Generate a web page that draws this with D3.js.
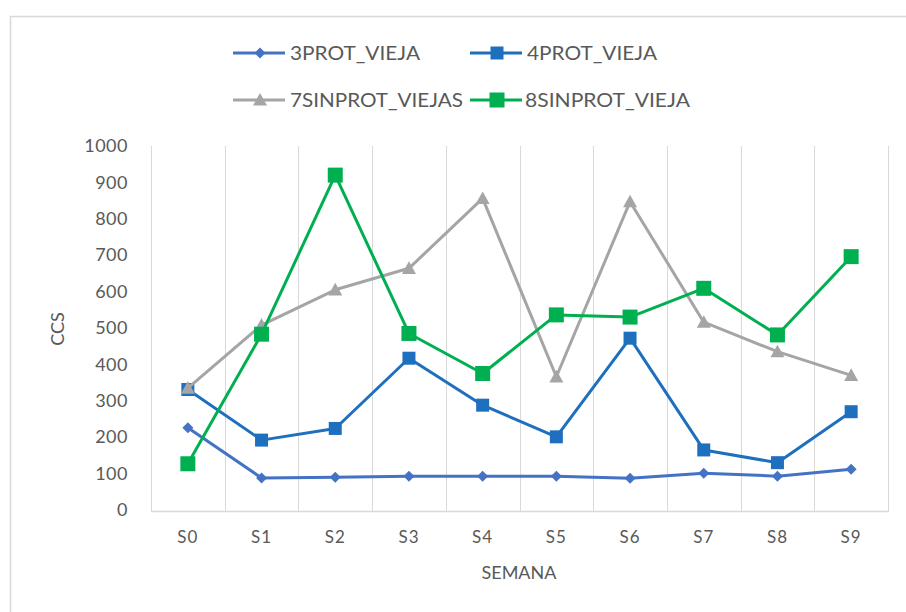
<!DOCTYPE html>
<html>
<head>
<meta charset="utf-8">
<script src="https://cdn.jsdelivr.net/npm/d3@7"></script>
<style>
  html, body { margin: 0; padding: 0; background: #ffffff; }
  svg { display: block; }
  text { font-family: Lato, "Open Sans", sans-serif; fill: #595959; }
</style>
</head>
<body>
<svg id="chart" width="906" height="612"></svg>
<script>
// Weekly CCS readings per group
const weeks = ["S0", "S1", "S2", "S3", "S4", "S5", "S6", "S7", "S8", "S9"];
const prot3Vieja    = [226, 88, 90, 93, 93, 93, 87, 101, 93, 112];
const prot4Vieja    = [331, 192, 224, 417, 288, 201, 472, 165, 130, 270];
const sinprot7Viejas = [335, 508, 605, 664, 856, 366, 847, 516, 435, 370];
const sinprot8Vieja = [127, 483, 920, 485, 375, 536, 530, 609, 481, 696];
const yTicks = [0, 100, 200, 300, 400, 500, 600, 700, 800, 900, 1000];

const series = [
  { name: "3PROT_VIEJA",     values: prot3Vieja,     color: "#4472C4", marker: "diamond",  size: 11 },
  { name: "4PROT_VIEJA",     values: prot4Vieja,     color: "#1F6FBF", marker: "square",   size: 13 },
  { name: "7SINPROT_VIEJAS", values: sinprot7Viejas, color: "#A5A5A5", marker: "triangle", size: 14 },
  { name: "8SINPROT_VIEJA",  values: sinprot8Vieja,  color: "#00B050", marker: "square",   size: 15 }
];

const svg = d3.select("#chart");

// outer chart frame
svg.append("path")
  .attr("d", "M10.5,920 V16.5 H920")
  .attr("fill", "none")
  .attr("stroke", "#D9D9D9")
  .attr("stroke-width", 1.5);

const plot = { left: 151, right: 888, top: 146, bottom: 510 };

const x = d3.scaleBand().domain(weeks).range([plot.left, plot.right]).padding(0);
const y = d3.scaleLinear().domain([0, 1000]).range([plot.bottom, plot.top]);
const cx = d => x(d) + x.bandwidth() / 2;

// vertical gridlines on category boundaries
const bounds = weeks.map(w => x(w)).concat([plot.right]);
svg.append("g").selectAll("line").data(bounds).join("line")
  .attr("x1", d => Math.round(d) + 0.5).attr("x2", d => Math.round(d) + 0.5)
  .attr("y1", plot.top).attr("y2", plot.bottom + 1)
  .attr("stroke", "#D9D9D9").attr("stroke-width", 1);

// category axis line
svg.append("line")
  .attr("x1", plot.left).attr("x2", plot.right + 1)
  .attr("y1", plot.bottom + 1.5).attr("y2", plot.bottom + 1.5)
  .attr("stroke", "#D9D9D9").attr("stroke-width", 1.5);

// value axis labels
const yAxis = d3.axisLeft(y).tickValues(yTicks).tickFormat(d3.format("d")).tickSize(0).tickPadding(0);
const yG = svg.append("g").attr("transform", "translate(128,0)").call(yAxis);
yG.select(".domain").remove();
yG.selectAll("text")
  .attr("font-size", 18).attr("fill", "#595959")
  .attr("letter-spacing", 0.5)
  .style("font-family", "Lato, sans-serif");

// category axis labels
const xAxis = d3.axisBottom(x).tickSize(0).tickPadding(0);
const xG = svg.append("g").attr("transform", "translate(0,537)").call(xAxis);
xG.select(".domain").remove();
xG.selectAll("text")
  .attr("dy", "0.35em")
  .attr("font-size", 17).attr("fill", "#595959")
  .attr("letter-spacing", 1)
  .style("font-family", "Lato, sans-serif");

// axis titles
svg.append("text")
  .attr("x", 519).attr("y", 573).attr("dy", "0.35em")
  .attr("text-anchor", "middle").attr("font-size", 18)
  .text("SEMANA");
svg.append("text")
  .attr("transform", "translate(58,329) rotate(-90)")
  .attr("dy", "0.35em")
  .attr("text-anchor", "middle").attr("font-size", 18)
  .text("CCS");

function markerPath(type, s) {
  const h = s / 2;
  if (type === "diamond") return `M0,${-h}L${h},0L0,${h}L${-h},0Z`;
  if (type === "triangle") return `M0,${-h}L${h},${h * 0.8}L${-h},${h * 0.8}Z`;
  return `M${-h},${-h}H${h}V${h}H${-h}Z`;
}

const line = d3.line().x((d, i) => cx(weeks[i])).y(d => y(d));

series.forEach(s => {
  const g = svg.append("g");
  g.append("path")
    .attr("d", line(s.values))
    .attr("fill", "none")
    .attr("stroke", s.color)
    .attr("stroke-width", 3)
    .attr("stroke-linejoin", "round");
  g.selectAll("path.m").data(s.values).join("path")
    .attr("class", "m")
    .attr("d", markerPath(s.marker, s.size))
    .attr("transform", (d, i) => `translate(${cx(weeks[i])},${y(d)})`)
    .attr("fill", s.color);
});

// legend
const legendPos = [
  { lx: 233, ly: 53, tx: 290, w: 130 },
  { lx: 470, ly: 53, tx: 527, w: 130 },
  { lx: 233, ly: 100, tx: 290, w: 173 },
  { lx: 470, ly: 100, tx: 525, w: 165 }
];
series.forEach((s, i) => {
  const p = legendPos[i];
  const g = svg.append("g");
  g.append("line")
    .attr("x1", p.lx).attr("x2", p.lx + 52)
    .attr("y1", p.ly).attr("y2", p.ly)
    .attr("stroke", s.color).attr("stroke-width", 3);
  g.append("path")
    .attr("d", markerPath(s.marker, s.size))
    .attr("transform", `translate(${p.lx + 27},${p.ly})`)
    .attr("fill", s.color);
  g.append("text")
    .attr("x", p.tx).attr("y", p.ly).attr("dy", "0.35em")
    .attr("font-size", 19)
    .attr("textLength", p.w).attr("lengthAdjust", "spacingAndGlyphs")
    .text(s.name);
});
</script>
</body>
</html>
